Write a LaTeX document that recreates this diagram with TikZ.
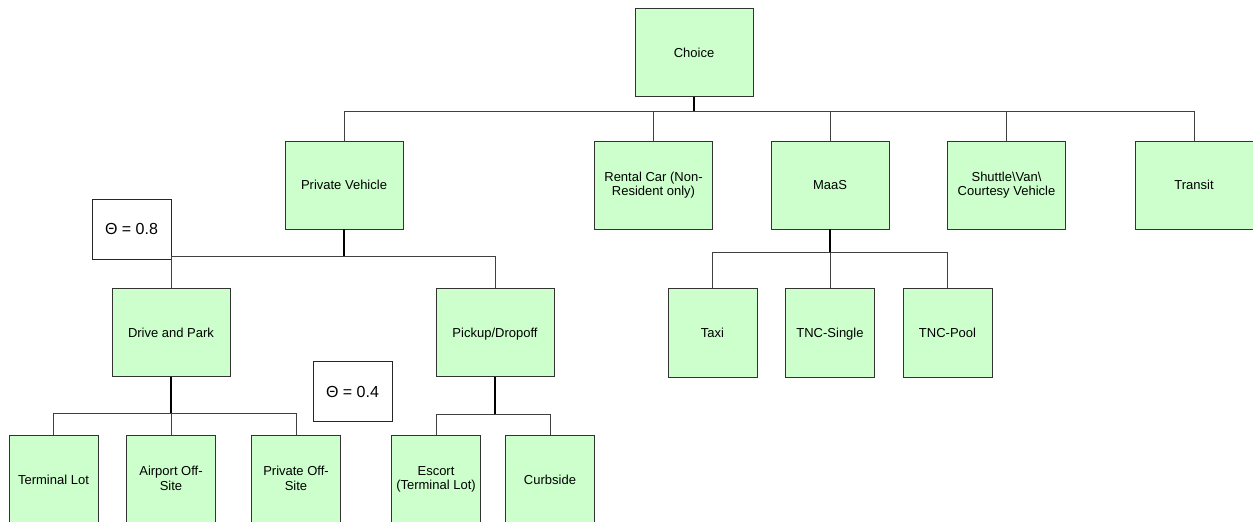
\documentclass[tikz,border=0pt]{standalone}
\usepackage{fontspec}
\setmainfont{Liberation Sans}
% struts that put the capitals of a label on the box centre
\newcommand\boxstrut{\rule[-2.7pt]{0pt}{14.7pt}}
\newcommand\thetastrut{\rule[-3pt]{0pt}{17.5pt}}
\begin{document}
\begin{tikzpicture}[x=1pt,y=-1pt,
  box/.style={draw=black!80,line width=0.9pt,fill=boxgreen,inner sep=0pt,
    align=center,font=\fontsize{13}{14.5}\selectfont,
    execute at begin node=\boxstrut,execute at end node=\boxstrut},
  widebox/.style={box,minimum width=118pt,minimum height=88pt},
  leafbox/.style={box,minimum width=89pt,minimum height=89pt},
  thetabox/.style={draw=black!85,line width=0.9pt,fill=white,inner sep=0pt,
    minimum width=79pt,minimum height=60pt,font=\fontsize{16}{18}\selectfont,
    execute at begin node=\thetastrut},
  trunk/.style={draw=black,line width=1.5pt},
  drop/.style={draw=black!75,line width=1pt}]
\definecolor{boxgreen}{RGB}{204,255,204}
\useasboundingbox (0,0) rectangle (1253,522);

% top level
\node[widebox] (choice) at (694,52.5) {Choice};

% second level
\node[widebox] (pv)      at (344,185)    {Private Vehicle};
\node[widebox] (rental)  at (653.5,185)  {Rental Car (Non-\\Resident only)};
\node[widebox] (maas)    at (830,185)    {MaaS};
\node[widebox] (shuttle) at (1006.5,185) {Shuttle\textbackslash Van\textbackslash\\Courtesy Vehicle};
\node[widebox] (transit) at (1194,185)   {Transit};

% third level
\node[widebox] (drive)  at (171,332.5) {Drive and Park};
\node[widebox] (pickup) at (495,332.5) {Pickup/Dropoff};
\node[leafbox] (taxi)   at (712.5,332.5) {Taxi};
\node[leafbox] (tncs)   at (830,332.5)   {TNC-Single};
\node[leafbox] (tncp)   at (947.5,332.5) {TNC-Pool};

% fourth level
\node[leafbox] (terminal) at (53.5,479.5) {Terminal Lot};
\node[leafbox] (airport)  at (171,479.5)  {Airport Off-\\Site};
\node[leafbox] (private)  at (296,479.5)  {Private Off-\\Site};
\node[leafbox] (escort)   at (436,479.5)  {Escort\\(Terminal Lot)};
\node[leafbox] (curb)     at (550,479.5)  {Curbside};

% nesting coefficients
\node[thetabox] (theta1) at (131.5,229) {Θ = 0.8};
\node[thetabox] (theta2) at (352.5,391.5) {Θ = 0.4};

% bus junctions
\coordinate (jchoice) at (694,111);
\coordinate (jpv)     at (344,256);
\coordinate (jmaas)   at (830,252);
\coordinate (jdrive)  at (171,413);
\coordinate (jpick)   at (495,414);

% connectors
\foreach \c in {pv,rental,maas,shuttle,transit} \draw[drop] (jchoice) -| (\c.north);
\draw[trunk] (choice.south) -- (jchoice);

\foreach \c in {drive,pickup} \draw[drop] (jpv) -| (\c.north);
\draw[trunk] (pv.south) -- (jpv);

\foreach \c in {taxi,tncs,tncp} \draw[drop] (jmaas) -| (\c.north);
\draw[trunk] (maas.south) -- (jmaas);

\foreach \c in {terminal,airport,private} \draw[drop] (jdrive) -| (\c.north);
\draw[trunk] (drive.south) -- (jdrive);

\foreach \c in {escort,curb} \draw[drop] (jpick) -| (\c.north);
\draw[trunk] (pickup.south) -- (jpick);
\end{tikzpicture}
\end{document}
